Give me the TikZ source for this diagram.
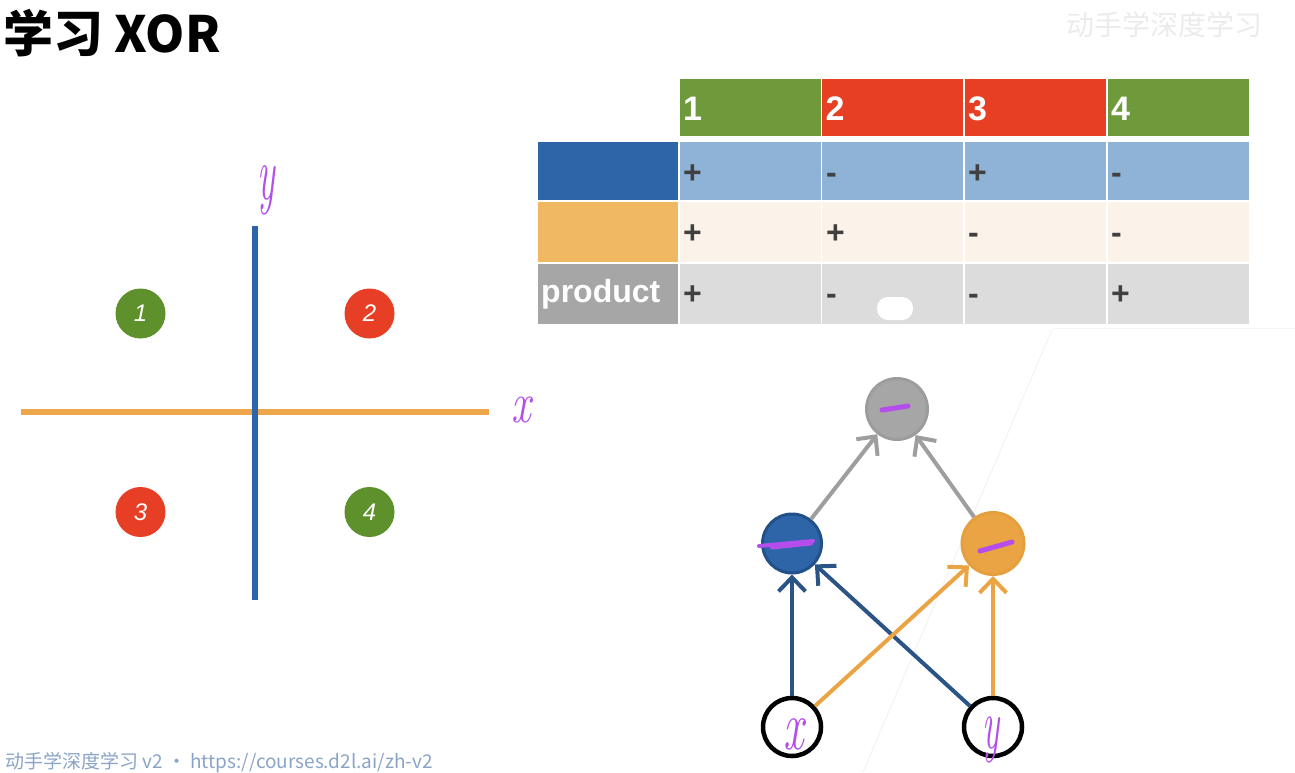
\documentclass[tikz,border=0pt]{standalone}
\usepackage{fontspec}
\setmainfont{Liberation Sans}
\newfontfamily\cjk{Noto Sans CJK SC}
\newfontfamily\handfont{Latin Modern Roman}
\usetikzlibrary{arrows.meta}
\definecolor{axblue}{HTML}{2E65A8}
\definecolor{axorange}{HTML}{EEA64B}
\definecolor{qgreen}{HTML}{5E902B}
\definecolor{qred}{HTML}{E63F25}
\definecolor{hgreen}{HTML}{6E9A3C}
\definecolor{hred}{HTML}{E63F24}
\definecolor{rowblue}{HTML}{8FB3D6}
\definecolor{labblue}{HTML}{2E64A8}
\definecolor{laborange}{HTML}{F0B862}
\definecolor{rowcream}{HTML}{FBF3EA}
\definecolor{labgray}{HTML}{A6A6A6}
\definecolor{rowgray}{HTML}{DCDCDC}
\definecolor{pmc}{HTML}{404040}
\definecolor{ngray}{HTML}{A6A6A6}
\definecolor{ngrayB}{HTML}{9C9C9C}
\definecolor{nblue}{HTML}{2E64A8}
\definecolor{nblueB}{HTML}{22518A}
\definecolor{norange}{HTML}{EBA444}
\definecolor{norangeB}{HTML}{E59F3E}
\definecolor{ablue}{HTML}{2B5486}
\definecolor{agray}{HTML}{9E9E9E}
\definecolor{aorange}{HTML}{EBA444}
\definecolor{hpurple}{HTML}{B44DEB}
\definecolor{footc}{HTML}{8AA4C8}
\begin{document}
\begin{tikzpicture}[x=1pt,y=-1pt,
  cell/.style={inner sep=0pt, anchor=north west, minimum width=141pt},
  hdr/.style={font=\fontsize{34}{34}\selectfont\bfseries, text=white, anchor=base west, inner sep=0pt},
  pm/.style={font=\fontsize{32}{32}\selectfont\bfseries, text=pmc, anchor=base west, inner sep=0pt},
  quad/.style={circle, minimum size=50pt, inner sep=0pt, text=white, font=\fontsize{24}{24}\selectfont\itshape},
  neuron/.style={circle, inner sep=0pt, line width=3pt},
  hand/.style={text=hpurple, inner sep=0pt},
  link/.style={line width=4pt, -{Straight Barb[length=14pt,width=27pt,line width=4pt]}},
  scrib/.style={hpurple, line width=5pt, line cap=round},
]
\useasboundingbox (0,0) rectangle (1295,772);

% faint artefact lines
\draw[black!6, line width=0.8pt] (1052,330) -- (863,772);
\draw[black!4, line width=0.8pt] (1053,328) -- (1295,328);

% title
\node[anchor=base west, inner sep=0pt, font=\cjk\bfseries\fontsize{50}{50}\selectfont] (title) at (3,52) {学习 XOR};
% watermark and footer
\node[anchor=base west, inner sep=0pt, text=black!8, font=\cjk\fontsize{28}{28}\selectfont] (wm) at (1066,35) {动手学深度学习};
\node[anchor=base west, inner sep=0pt, text=footc, font=\cjk\fontsize{19}{19}\selectfont] (foot) at (5,768) {动手学深度学习 v2 · https://courses.d2l.ai/zh-v2};

% axes
\coordinate (xl) at (21,412); \coordinate (xr) at (489,412);
\coordinate (yt) at (255,226); \coordinate (yb) at (255,600);
\draw[axorange, line width=6pt] (xl) -- (xr);
\draw[axblue, line width=6.5pt] (yt) -- (yb);
\node[hand, font=\handfont\itshape\fontsize{58}{58}\selectfont] (xlab) at (521,410) {\scalebox{0.75}[1]{x}};
\node[hand, font=\handfont\itshape\fontsize{77}{77}\selectfont] (ylab) at (266,190) {\scalebox{0.48}[1]{y}};

% quadrant markers
\node[quad, fill=qgreen] (q1) at (140.5,313.5) {1};
\node[quad, fill=qred] (q2) at (369.5,313.5) {2};
\node[quad, fill=qred] (q3) at (140.5,512) {3};
\node[quad, fill=qgreen] (q4) at (369.5,512) {4};

% table header
\node[cell, fill=hgreen, minimum height=57pt] (c01) at (679.5,78.5) {};
\node[cell, fill=hred,   minimum height=57pt] (c02) at (822,78.5) {};
\node[cell, fill=hred,   minimum height=57pt] (c03) at (964.5,78.5) {};
\node[cell, fill=hgreen, minimum height=57pt] (c04) at (1107.5,78.5) {};
% row 1
\node[cell, fill=labblue, minimum width=140pt, minimum height=58.5pt] (c10) at (537.5,141.5) {};
\node[cell, fill=rowblue, minimum height=58.5pt] (c11) at (679.5,141.5) {};
\node[cell, fill=rowblue, minimum height=58.5pt] (c12) at (822,141.5) {};
\node[cell, fill=rowblue, minimum height=58.5pt] (c13) at (964.5,141.5) {};
\node[cell, fill=rowblue, minimum height=58.5pt] (c14) at (1107.5,141.5) {};
% row 2
\node[cell, fill=laborange, minimum width=140pt, minimum height=60pt] (c20) at (537.5,201.5) {};
\node[cell, fill=rowcream, minimum height=60pt] (c21) at (679.5,201.5) {};
\node[cell, fill=rowcream, minimum height=60pt] (c22) at (822,201.5) {};
\node[cell, fill=rowcream, minimum height=60pt] (c23) at (964.5,201.5) {};
\node[cell, fill=rowcream, minimum height=60pt] (c24) at (1107.5,201.5) {};
% row 3
\node[cell, fill=labgray, minimum width=140pt, minimum height=60pt] (c30) at (537.5,263.5) {};
\node[cell, fill=rowgray, minimum height=60pt] (c31) at (679.5,263.5) {};
\node[cell, fill=rowgray, minimum height=60pt] (c32) at (822,263.5) {};
\node[cell, fill=rowgray, minimum height=60pt] (c33) at (964.5,263.5) {};
\node[cell, fill=rowgray, minimum height=60pt] (c34) at (1107.5,263.5) {};

% table texts
\node[hdr] (t01) at (683,120) {1};
\node[hdr] (t02) at (825.5,120) {2};
\node[hdr] (t03) at (968,120) {3};
\node[hdr] (t04) at (1111,120) {4};
\node[pm] (t11) at (683,183) {+};
\node[pm] (t12) at (826,183) {-};
\node[pm] (t13) at (968,183) {+};
\node[pm] (t14) at (1111,183) {-};
\node[pm] (t21) at (683,243.5) {+};
\node[pm] (t22) at (826,243.5) {+};
\node[pm] (t23) at (968,243.5) {-};
\node[pm] (t24) at (1111,243.5) {-};
\node[pm] (t31) at (683,304) {+};
\node[pm] (t32) at (826,304) {-};
\node[pm] (t33) at (968,304) {-};
\node[pm] (t34) at (1111,304) {+};
\node[anchor=base west, inner sep=0pt, text=white, font=\fontsize{32}{32}\selectfont\bfseries] (prod) at (541,302) {product};
% white blob
\fill[white, rounded corners=11pt] (877,297) rectangle (913,320);

% network
\node[neuron, fill=ngray, draw=ngrayB, minimum size=61pt] (out) at (897,409) {};
\node[neuron, fill=nblue, draw=nblueB, minimum size=59pt] (hb) at (792,543.5) {};
\node[neuron, fill=norange, draw=norangeB, minimum size=62pt] (ho) at (993,543.5) {};
\node[neuron, fill=white, draw=black, line width=4.5pt, minimum size=58pt] (ix) at (792,727) {};
\node[neuron, fill=white, draw=black, line width=4.5pt, minimum size=58pt] (iy) at (993,727) {};
\node[hand, font=\handfont\itshape\fontsize{70}{70}\selectfont] (ixlab) at (794,734) {\scalebox{0.65}[1]{x}};
\node[hand, font=\handfont\itshape\fontsize{72}{72}\selectfont] (iylab) at (991,740) {\scalebox{0.5}[1]{y}};

\draw[link, agray] (hb) -- (out);
\draw[link, agray] (ho) -- (out);
\draw[link, ablue] (ix) -- (hb);
\draw[link, ablue] (iy) -- (hb);
\draw[link, aorange] (ix) -- (ho);
\draw[link, aorange] (iy) -- (ho);

% handwritten marks
\draw[scrib] (882,410) -- (908,406);
\draw[scrib, line width=4pt] (759,546) -- (813,541);
\draw[scrib, line width=4pt] (772,547.5) -- (811,543.5);
\draw[scrib] (980,551) -- (1012,542);
\end{tikzpicture}
\end{document}
